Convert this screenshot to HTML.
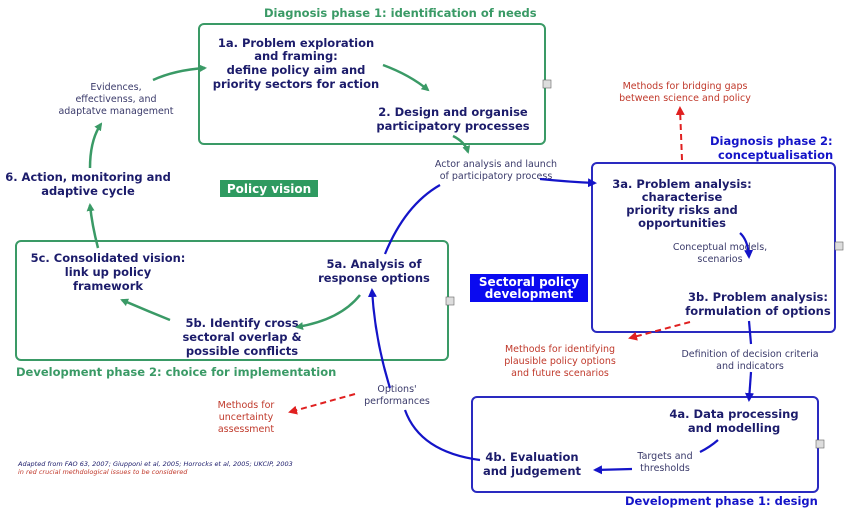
<!DOCTYPE html>
<html><head><meta charset="utf-8"><style>
body{margin:0;background:#fff}
svg{display:block}
.b{font-family:"DejaVu Sans","Liberation Sans",sans-serif;font-weight:bold;font-size:11.5px;fill:#1c1c6b}
.g{font-family:"DejaVu Sans","Liberation Sans",sans-serif;font-weight:bold;font-size:11.5px;fill:#3a9a66}
.s{font-family:"DejaVu Sans","Liberation Sans",sans-serif;font-size:9.5px;fill:#3a3a6a}
.r{font-family:"DejaVu Sans","Liberation Sans",sans-serif;font-size:9.5px;fill:#c0392b}
.bl{font-family:"DejaVu Sans","Liberation Sans",sans-serif;font-weight:bold;font-size:11.5px;fill:#1414c8}
</style></head><body>
<svg width="850" height="508" viewBox="0 0 850 508" xmlns="http://www.w3.org/2000/svg">
<defs>
<marker id="ag" markerWidth="8" markerHeight="8" refX="6" refY="4" orient="auto" markerUnits="userSpaceOnUse"><path d="M0,0 L8,4 L0,8 z" fill="#3a9a66"/></marker>
<marker id="ab" markerWidth="9" markerHeight="9" refX="7" refY="4.5" orient="auto" markerUnits="userSpaceOnUse"><path d="M0,0 L9,4.5 L0,9 z" fill="#1414c8"/></marker>
<marker id="ar" markerWidth="9" markerHeight="9" refX="7" refY="4.5" orient="auto" markerUnits="userSpaceOnUse"><path d="M0,0 L9,4.5 L0,9 z" fill="#e02020"/></marker>
</defs>
<!-- boxes -->
<rect x="199" y="24" width="346" height="120" rx="5" fill="none" stroke="#3a9a66" stroke-width="2"/>
<rect x="16" y="241" width="432" height="119" rx="5" fill="none" stroke="#3a9a66" stroke-width="2"/>
<rect x="592" y="163" width="243" height="169" rx="5" fill="none" stroke="#2a2ac0" stroke-width="2"/>
<rect x="472" y="397" width="346" height="95" rx="5" fill="none" stroke="#2a2ac0" stroke-width="2"/>
<!-- small icons -->
<rect x="543" y="80" width="8" height="8" fill="#ddd" stroke="#666" stroke-width="0.6"/>
<rect x="446" y="297" width="8" height="8" fill="#ddd" stroke="#666" stroke-width="0.6"/>
<rect x="835" y="242" width="8" height="8" fill="#ddd" stroke="#666" stroke-width="0.6"/>
<rect x="816" y="440" width="8" height="8" fill="#ddd" stroke="#666" stroke-width="0.6"/>
<!-- titles -->
<text class="g" x="264" y="17">Diagnosis phase 1:  identification of needs</text>
<text class="bl" x="710" y="145">Diagnosis phase 2:</text>
<text class="bl" x="718" y="159">conceptualisation</text>
<text class="g" x="16" y="376">Development  phase 2:  choice for implementation</text>
<text class="bl" x="625" y="505">Development phase 1:  design</text>
<!-- labels -->
<rect x="220" y="180" width="98" height="17" fill="#2e9a60"/>
<text x="269" y="193" text-anchor="middle" font-family="DejaVu Sans,Liberation Sans,sans-serif" font-weight="bold" font-size="12" fill="#fff">Policy vision</text>
<rect x="470" y="274" width="118" height="28" fill="#0a0af0"/>
<text x="529" y="286" text-anchor="middle" font-family="DejaVu Sans,Liberation Sans,sans-serif" font-weight="bold" font-size="12" fill="#fff">Sectoral policy</text>
<text x="529" y="298" text-anchor="middle" font-family="DejaVu Sans,Liberation Sans,sans-serif" font-weight="bold" font-size="12" fill="#fff">development</text>
<!-- nodes -->
<g class="b" text-anchor="middle">
<text x="296" y="47">1a. Problem exploration</text>
<text x="296" y="60">and framing:</text>
<text x="296" y="74">define policy aim and</text>
<text x="296" y="88">priority sectors for action</text>
<text x="453" y="116">2. Design and organise</text>
<text x="453" y="130">participatory processes</text>
<text x="88" y="181">6. Action, monitoring and</text>
<text x="88" y="195">adaptive cycle</text>
<text x="108" y="262">5c. Consolidated vision:</text>
<text x="108" y="276">link up policy</text>
<text x="108" y="290">framework</text>
<text x="374" y="268">5a. Analysis of</text>
<text x="374" y="282">response options</text>
<text x="242" y="327">5b. Identify cross</text>
<text x="242" y="341">sectoral overlap &amp;</text>
<text x="242" y="355">possible conflicts</text>
<text x="682" y="188">3a. Problem analysis:</text>
<text x="682" y="201">characterise</text>
<text x="682" y="214">priority risks and</text>
<text x="682" y="227">opportunities</text>
<text x="758" y="301">3b. Problem analysis:</text>
<text x="758" y="315">formulation of options</text>
<text x="734" y="418">4a. Data processing</text>
<text x="734" y="432">and modelling</text>
<text x="532" y="461">4b. Evaluation</text>
<text x="532" y="475">and  judgement</text>
</g>
<g class="s" text-anchor="middle">
<text x="116" y="90">Evidences,</text>
<text x="116" y="102">effectivenss, and</text>
<text x="116" y="114">adaptatve management</text>
<text x="496" y="167">Actor analysis and launch</text>
<text x="496" y="179">of participatory process</text>
<text x="720" y="250">Conceptual models,</text>
<text x="720" y="262">scenarios</text>
<text x="750" y="357">Definition of decision criteria</text>
<text x="750" y="369">and indicators</text>
<text x="665" y="459">Targets and</text>
<text x="665" y="471">thresholds</text>
<text x="397" y="392">Options'</text>
<text x="397" y="404">performances</text>
</g>
<g class="r" text-anchor="middle">
<text x="685" y="89">Methods for bridging gaps</text>
<text x="685" y="101">between science and policy</text>
<text x="560" y="352">Methods for identifying</text>
<text x="560" y="364">plausible policy options</text>
<text x="560" y="376">and future scenarios</text>
<text x="246" y="408">Methods for</text>
<text x="246" y="420">uncertainty</text>
<text x="246" y="432">assessment</text>
</g>
<text x="18" y="466" font-family="DejaVu Sans,Liberation Sans,sans-serif" font-style="italic" font-size="6.5" fill="#1c1c6b">Adapted from FAO 63, 2007; Giupponi et al, 2005; Horrocks et al, 2005; UKCIP, 2003</text>
<text x="18" y="474" font-family="DejaVu Sans,Liberation Sans,sans-serif" font-style="italic" font-size="6.5" fill="#c0392b">in red crucial methdological issues to be considered</text>
<!-- green arrows -->
<g fill="none" stroke="#3a9a66" stroke-width="2.5">
<path d="M153,80 Q175,70 205,68" marker-end="url(#ag)"/>
<path d="M383,65 Q410,75 428,90" marker-end="url(#ag)"/>
<path d="M453,136 Q465,142 468,152" marker-end="url(#ag)"/>
<path d="M90,168 Q90,140 101,124" marker-end="url(#ag)"/>
<path d="M98,248 Q92,225 90,205" marker-end="url(#ag)"/>
<path d="M170,320 Q145,310 122,300" marker-end="url(#ag)"/>
<path d="M360,295 Q340,320 297,327" marker-end="url(#ag)"/>
</g>
<!-- blue arrows -->
<g fill="none" stroke="#1414c8" stroke-width="2.2">
<path d="M385,254 Q405,205 440,185" />
<path d="M540,179 Q570,182 595,183" marker-end="url(#ab)"/>
<path d="M740,233 Q748,240 749,257" marker-end="url(#ab)"/>
<path d="M749,321 L751,344"/>
<path d="M751,372 L749,400" marker-end="url(#ab)"/>
<path d="M718,440 Q710,447 700,452"/>
<path d="M632,469 L595,470" marker-end="url(#ab)"/>
<path d="M480,460 Q420,452 405,410"/>
<path d="M390,388 Q375,340 372,290" marker-end="url(#ab)"/>
</g>
<!-- red dashed -->
<g fill="none" stroke="#e02020" stroke-width="2" stroke-dasharray="6,4">
<path d="M682,160 L680,108" marker-end="url(#ar)"/>
<path d="M690,322 L630,338" marker-end="url(#ar)"/>
<path d="M355,394 L290,412" marker-end="url(#ar)"/>
</g>
</svg>
</body></html>
